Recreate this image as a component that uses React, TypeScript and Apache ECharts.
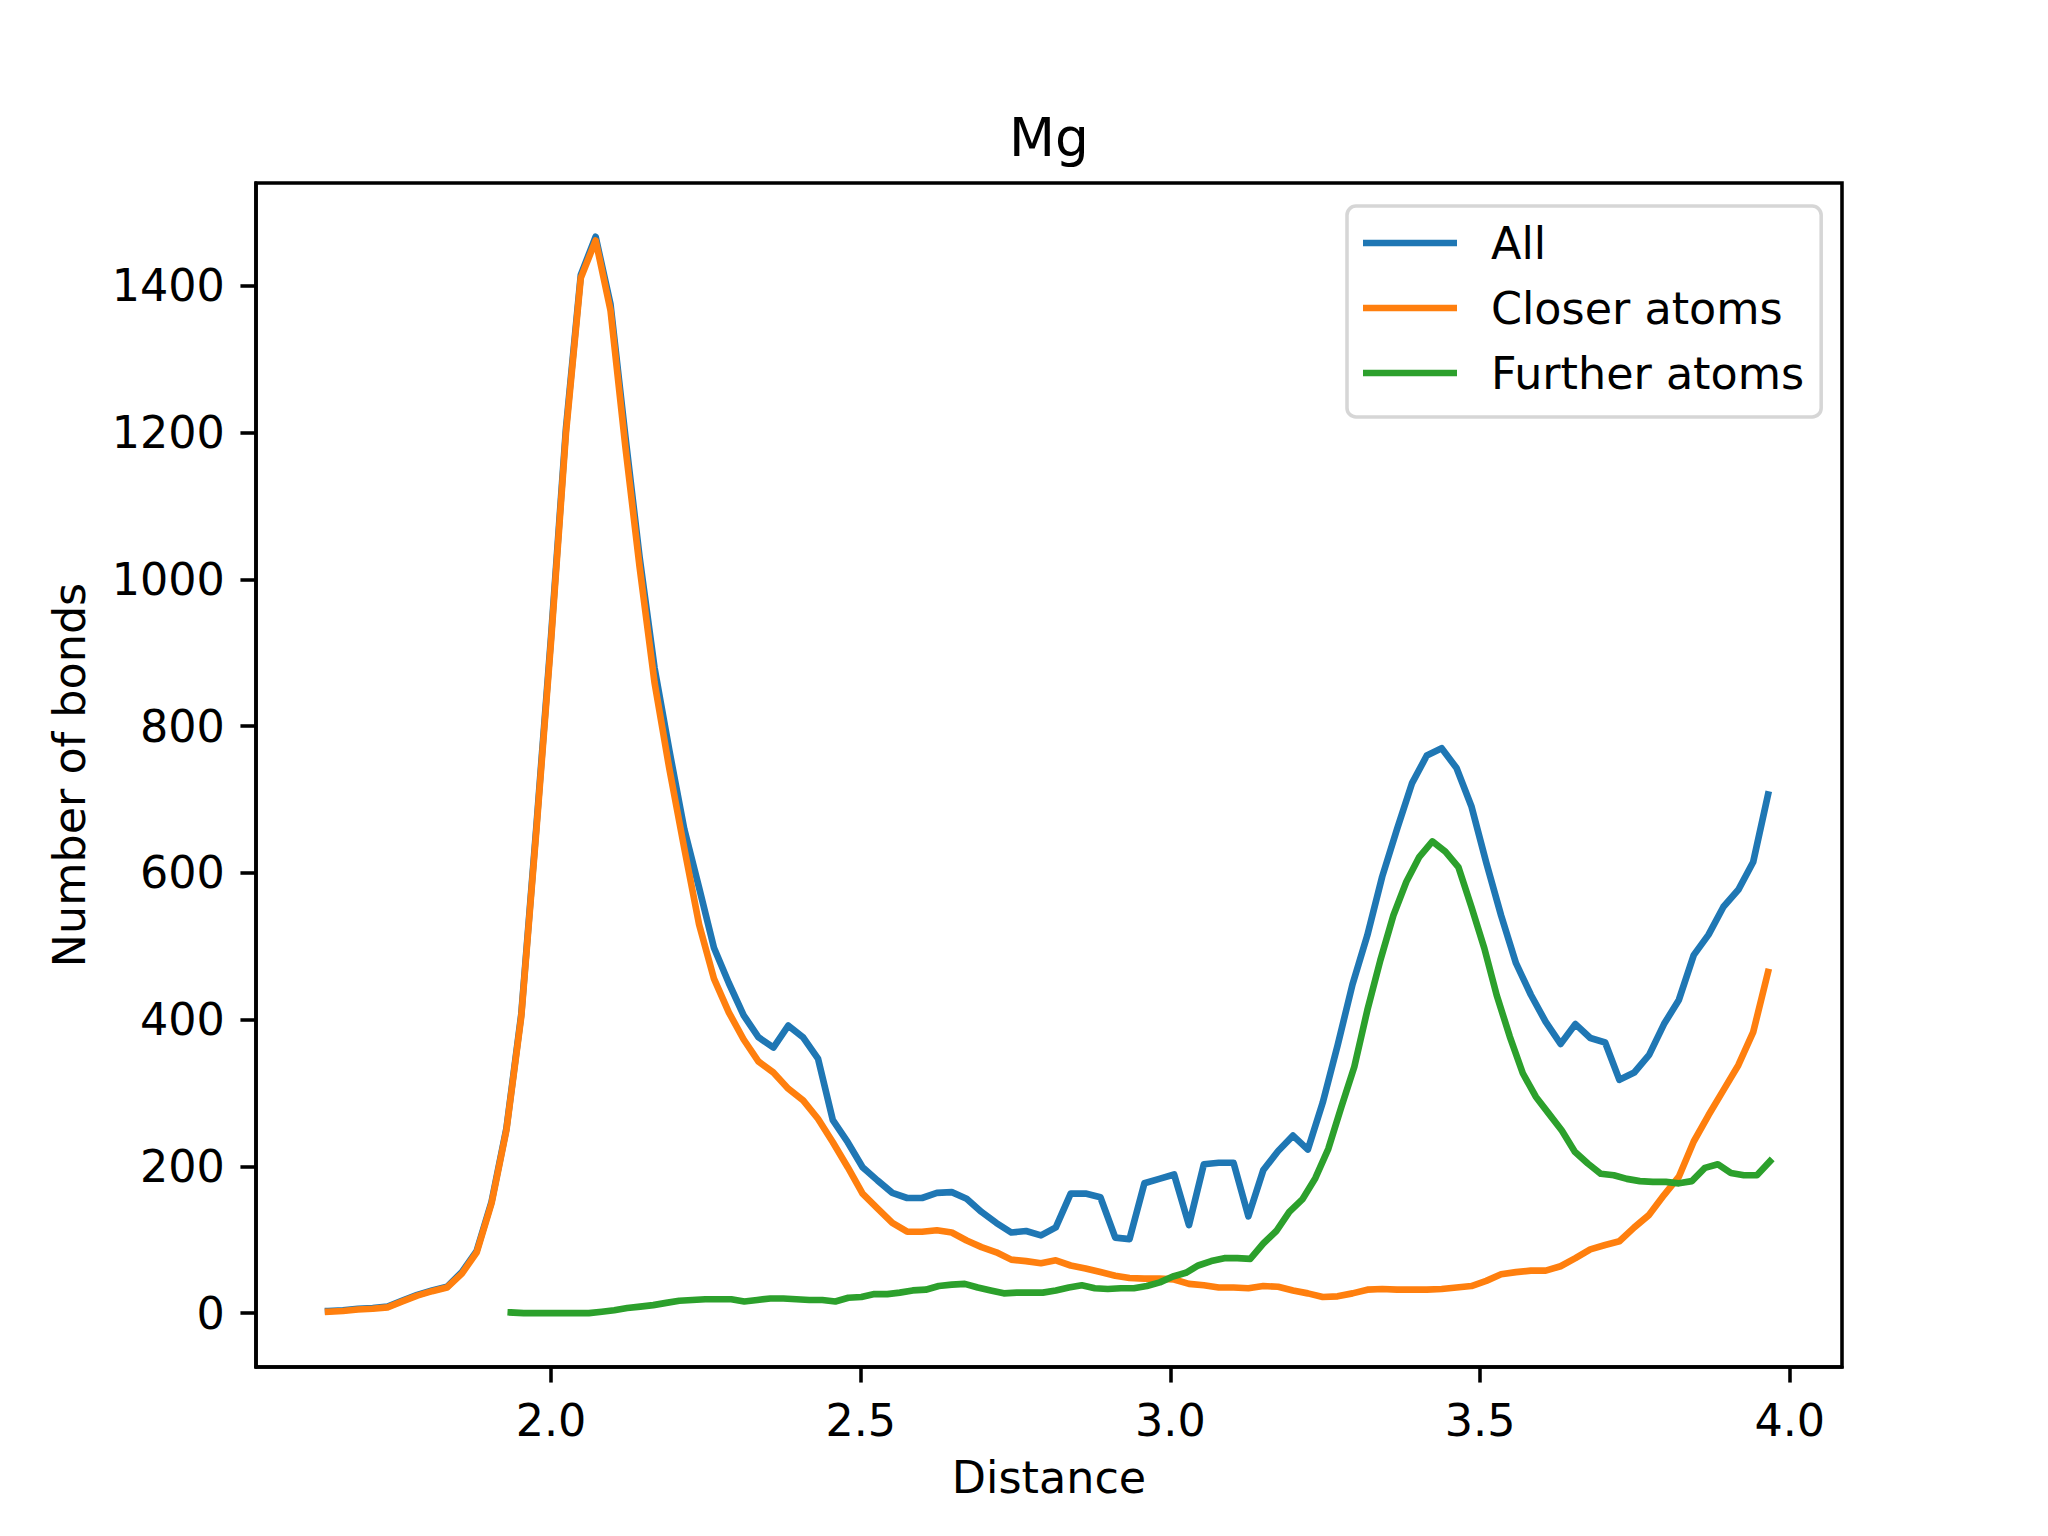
import React, { useEffect, useRef } from "react";
import * as echarts from "echarts";

// ---------- data ----------
const DIST_MAIN = [
  1.640, 1.664, 1.688, 1.712, 1.736, 1.760, 1.784, 1.808, 1.832, 1.856,
  1.880, 1.904, 1.928, 1.952, 1.976, 2.000, 2.024, 2.048, 2.072, 2.096,
  2.120, 2.143, 2.167, 2.191, 2.215, 2.239, 2.263, 2.287, 2.311, 2.335,
  2.359, 2.383, 2.407, 2.431, 2.455, 2.479, 2.503, 2.527, 2.551, 2.575,
  2.599, 2.623, 2.647, 2.671, 2.695, 2.719, 2.743, 2.767, 2.791, 2.815,
  2.839, 2.863, 2.887, 2.911, 2.934, 2.958, 2.982, 3.006, 3.030, 3.054,
  3.078, 3.102, 3.126, 3.150, 3.174, 3.198, 3.222, 3.246, 3.270, 3.294,
  3.318, 3.342, 3.366, 3.390, 3.414, 3.438, 3.462, 3.486, 3.510, 3.534,
  3.558, 3.582, 3.606, 3.630, 3.654, 3.678, 3.702, 3.725, 3.749, 3.773,
  3.797, 3.821, 3.845, 3.869, 3.893, 3.917, 3.941, 3.965,
];

const ALL = [
  3, 4, 6, 7, 9, 17, 25, 31, 36, 56,
  85, 152, 252, 408, 660, 922, 1205, 1415, 1467, 1375,
  1195, 1030, 880, 767, 660, 580, 498, 450, 406, 376,
  362, 392, 376, 347, 263, 233, 199, 181, 164, 157,
  157, 164, 165, 156, 138, 123, 110, 112, 106, 117,
  163, 163, 158, 103, 101, 177, 183, 189, 120, 203,
  205, 205, 132, 195, 221, 242, 223, 287, 365, 448,
  515, 595, 660, 722, 760, 770, 743, 691, 614, 542,
  477, 434, 397, 367, 394, 375, 369, 318, 328, 352,
  394, 427, 488, 516, 554, 577, 615, 707,
];

const CLOSER = [
  2, 3, 5, 6, 8, 16, 24, 30, 35, 54,
  83, 150, 250, 405, 655, 916, 1199, 1411, 1462, 1367,
  1181, 1017, 860, 742, 634, 530, 456, 410, 373, 343,
  328, 306, 290, 265, 233, 199, 163, 143, 123, 111,
  111, 113, 110, 99, 90, 83, 73, 71, 68, 72,
  65, 61, 56, 51, 48, 47, 47, 46, 40, 38,
  35, 35, 34, 37, 36, 31, 27, 22, 23, 27,
  32, 33, 32, 32, 32, 33, 35, 37, 44, 53,
  56, 58, 58, 64, 75, 87, 93, 98, 117, 134,
  161, 186, 234, 270, 304, 338, 383, 465,
];

const DIST_FURTHER = [
  1.935, 1.956, 1.977, 1.998, 2.019, 2.040, 2.061, 2.082, 2.102, 2.123,
  2.144, 2.165, 2.186, 2.207, 2.228, 2.249, 2.270, 2.291, 2.312, 2.333,
  2.354, 2.375, 2.396, 2.417, 2.438, 2.459, 2.480, 2.501, 2.522, 2.543,
  2.563, 2.584, 2.605, 2.626, 2.647, 2.668, 2.689, 2.710, 2.731, 2.752,
  2.773, 2.794, 2.815, 2.836, 2.857, 2.878, 2.899, 2.920, 2.941, 2.962,
  2.983, 3.004, 3.025, 3.045, 3.066, 3.087, 3.108, 3.129, 3.150, 3.171,
  3.192, 3.213, 3.234, 3.255, 3.276, 3.297, 3.318, 3.339, 3.360, 3.381,
  3.402, 3.423, 3.444, 3.465, 3.486, 3.507, 3.527, 3.548, 3.569, 3.590,
  3.611, 3.632, 3.653, 3.674, 3.695, 3.716, 3.737, 3.758, 3.779, 3.800,
  3.821, 3.842, 3.863, 3.884, 3.905, 3.926, 3.947, 3.968,
];

const FURTHER = [
  1, 0, 0, 0, 0, 0, 0, 2, 4, 7,
  9, 11, 14, 17, 18, 19, 19, 19, 16, 18,
  20, 20, 19, 18, 18, 16, 21, 22, 26, 26,
  28, 31, 32, 37, 39, 40, 35, 31, 27, 28,
  28, 28, 31, 35, 38, 34, 33, 34, 34, 37,
  42, 50, 55, 65, 71, 75, 75, 74, 95, 112,
  138, 155, 184, 224, 281, 336, 413, 481, 542, 588,
  622, 643, 629, 608, 554, 497, 433, 377, 327, 295,
  272, 249, 220, 204, 190, 188, 183, 180, 179, 179,
  177, 180, 198, 203, 191, 188, 188, 207,
];

const SERIES_NAMES = ["All", "Closer atoms", "Further atoms"];
const X_TICKS = [2.0, 2.5, 3.0, 3.5, 4.0];
const Y_TICKS = [0, 200, 400, 600, 800, 1000, 1200, 1400];
const TITLE = "Mg";
const X_LABEL = "Distance";
const Y_LABEL = "Number of bonds";

// ---------- styling ----------
const PT = 320 / 72;
const FONT = "DejaVu Sans";
const COLORS = ["#1f77b4", "#ff7f0e", "#2ca02c"];

function autoRange(values: number[]) {
  let lo = Infinity;
  let hi = -Infinity;
  for (const v of values) {
    if (v < lo) lo = v;
    if (v > hi) hi = v;
  }
  const m = (hi - lo) * 0.05;
  return [lo - m, hi + m];
}

export default function App() {
  const ref = useRef<HTMLDivElement>(null);

  useEffect(() => {
    document.body.style.margin = "0";
    const chart = echarts.init(ref.current as HTMLDivElement, null, {
      renderer: "svg",
      width: 2048,
      height: 1536,
    });

    const [xMin, xMax] = autoRange([...DIST_MAIN, ...DIST_FURTHER]);
    const [yMin, yMax] = autoRange([...ALL, ...CLOSER, ...FURTHER]);

    const lineWidth = 1.5 * PT;
    const spine = 0.8 * PT;
    const tickLen = 3.5 * PT;
    const fs = 10 * PT;

    const mk = (name: string, xs: number[], ys: number[], color: string) => ({
      name,
      type: "line",
      data: xs.map((x, i) => [x, ys[i]]),
      color,
      showSymbol: false,
      symbol: "none",
      silent: true,
      lineStyle: { width: lineWidth, color, cap: "square", join: "round" },
      emphasis: { disabled: true },
    });

    const axisCommon = {
      type: "value",
      splitLine: { show: false },
      axisLine: {
        show: true,
        onZero: false,
        lineStyle: { color: "#000", width: spine },
      },
    };

    chart.setOption({
      animation: false,
      backgroundColor: "#ffffff",
      textStyle: { fontFamily: FONT },
      grid: {
        left: 256,
        top: 183,
        width: 1586,
        height: 1184,
        show: true,
        borderColor: "#000",
        borderWidth: spine,
        backgroundColor: "transparent",
        containLabel: false,
        outerBoundsMode: "none",
      },
      graphic: [
        {
          type: "text",
          x: 1049,
          y: 137,
          silent: true,
          style: {
            text: TITLE,
            fontSize: 12 * PT,
            fontFamily: FONT,
            fill: "#000",
            align: "center",
            verticalAlign: "middle",
            textAlign: "center",
            textVerticalAlign: "middle",
          },
        },
      ],
      xAxis: {
        ...axisCommon,
        min: xMin,
        max: xMax,
        axisTick: {
          show: true,
          inside: false,
          length: tickLen,
          lineStyle: { color: "#000", width: spine },
          customValues: X_TICKS,
        },
        axisLabel: {
          customValues: X_TICKS,
          formatter: (v: number) => v.toFixed(1),
          fontSize: fs,
          fontFamily: FONT,
          color: "#000",
          margin: tickLen + 3.5 * PT,
        },
        name: X_LABEL,
        nameLocation: "middle",
        nameGap: 88,
        nameTextStyle: { fontSize: fs, fontFamily: FONT, color: "#000" },
      },
      yAxis: {
        ...axisCommon,
        min: yMin,
        max: yMax,
        axisTick: {
          show: true,
          inside: false,
          length: tickLen,
          lineStyle: { color: "#000", width: spine },
          customValues: Y_TICKS,
        },
        axisLabel: {
          customValues: Y_TICKS,
          formatter: (v: number) => String(Math.round(v)),
          fontSize: fs,
          fontFamily: FONT,
          color: "#000",
          margin: tickLen + 3.5 * PT,
        },
        name: Y_LABEL,
        nameLocation: "middle",
        nameGap: 165,
        nameTextStyle: { fontSize: fs, fontFamily: FONT, color: "#000" },
      },
      legend: {
        orient: "vertical",
        left: 1347,
        top: 206,
        padding: [15, 17, 22, 16],
        itemGap: 21,
        itemWidth: 94,
        itemHeight: lineWidth,
        icon: "rect",
        selectedMode: false,
        backgroundColor: "rgba(255,255,255,0.8)",
        borderColor: "#d6d6d6",
        borderWidth: spine,
        borderRadius: 9,
        textStyle: {
          fontSize: fs,
          fontFamily: FONT,
          color: "#000",
          padding: [0, 0, 0, 29],
        },
        data: SERIES_NAMES,
      },
      series: [
        mk(SERIES_NAMES[0], DIST_MAIN, ALL, COLORS[0]),
        mk(SERIES_NAMES[1], DIST_MAIN, CLOSER, COLORS[1]),
        mk(SERIES_NAMES[2], DIST_FURTHER, FURTHER, COLORS[2]),
      ],
    });

    return () => chart.dispose();
  }, []);

  return (
    <div
      ref={ref}
      style={{
        position: "absolute",
        left: 0,
        top: 0,
        width: 2048,
        height: 1536,
        background: "#fff",
      }}
    />
  );
}
